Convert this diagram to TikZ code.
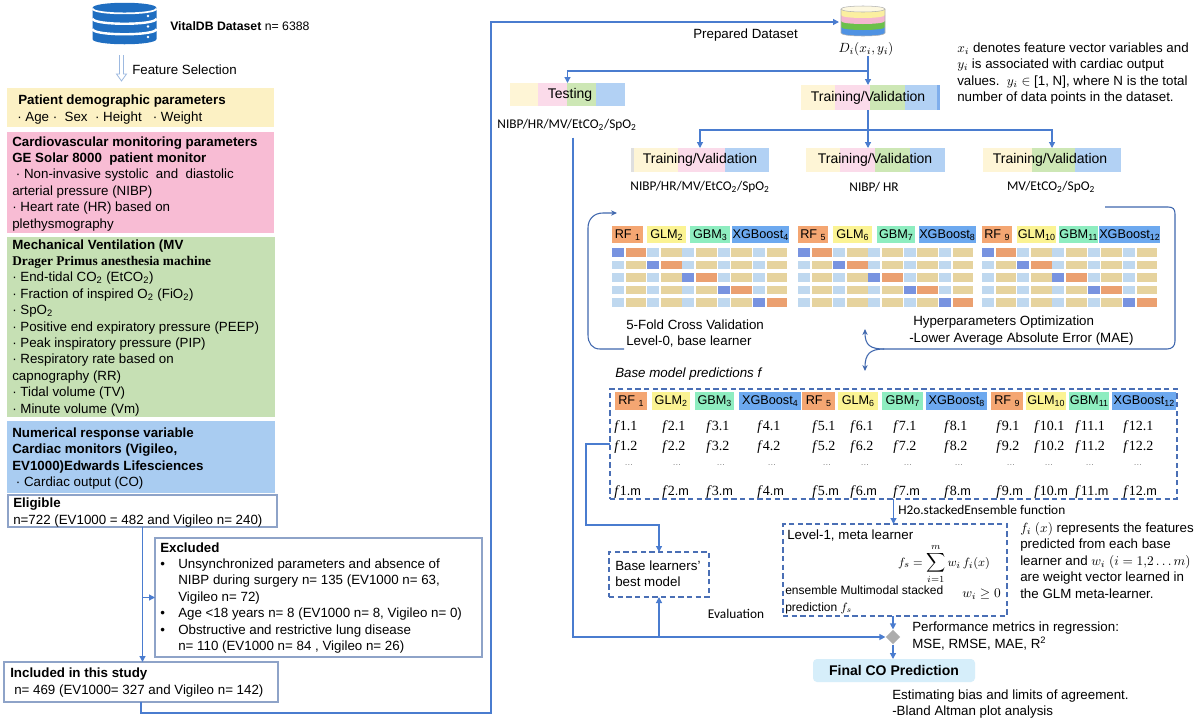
\documentclass[tikz,border=0pt]{standalone}
\usepackage{fontspec}
\setmainfont{Liberation Sans}
\newfontfamily\calibf{Carlito}
\newfontfamily\seriff{Liberation Serif}
\newfontfamily\sansf{Liberation Sans}
\usetikzlibrary{arrows.meta,shapes.geometric}
\definecolor{lnblue}{HTML}{4A7CCF}
\definecolor{dashc}{HTML}{4A6FB5}
\definecolor{curvc}{HTML}{3F67AE}
\definecolor{bxyel}{HTML}{FCF1C4}
\definecolor{bxpink}{HTML}{F8BCD4}
\definecolor{bxgreen}{HTML}{C6E0B4}
\definecolor{bxblue}{HTML}{A9CCF1}
\definecolor{bord}{HTML}{8EA3C8}
\definecolor{dbblue}{HTML}{1F6EC1}
\definecolor{arrlt}{HTML}{9DB9E0}
\definecolor{rfc}{HTML}{F4A672}
\definecolor{glmc}{HTML}{FBF393}
\definecolor{gbmc}{HTML}{8EEDC0}
\definecolor{xgbc}{HTML}{6DA9EF}
\definecolor{celb}{HTML}{BFD8EF}
\definecolor{celt}{HTML}{E6D39E}
\definecolor{celdb}{HTML}{7893E0}
\definecolor{celo}{HTML}{EBA070}
\definecolor{tvy}{HTML}{FEF5D6}
\definecolor{tvp}{HTML}{FBDBEA}
\definecolor{tvg}{HTML}{CDE7B5}
\definecolor{tvb}{HTML}{B2D1F4}
\definecolor{tvdb}{HTML}{7FAEEC}
\definecolor{finalc}{HTML}{D6EEFA}
\definecolor{dsy}{HTML}{FBEFA0}
\definecolor{dsp}{HTML}{F4B6CF}
\definecolor{dsg}{HTML}{6CC04A}
\definecolor{dsb}{HTML}{4F92E3}
\definecolor{dstop}{HTML}{FDF8E0}
\begin{document}
\begin{tikzpicture}[x=0.75pt,y=-0.75pt,
  txt/.style={anchor=base west,inner sep=0pt,font=\fontsize{10}{12}\selectfont},
  ctxt/.style={anchor=center,inner sep=0pt,font=\fontsize{10}{12}\selectfont},
  box/.style args={#1x#2}{minimum width=#1*0.75pt,minimum height=#2*0.75pt,inner sep=0pt,outer sep=0pt,anchor=north west},
  ln/.style={draw=lnblue,line width=0.9pt},
  arr/.style={ln,-{Triangle[length=4.5pt,width=4.5pt]}},
  dbox/.style={draw=dashc,line width=1pt,dash pattern=on 4pt off 2.5pt},
  hdr/.style 2 args={fill=#1,minimum width=#2*0.75pt,inner sep=0pt,anchor=north west,minimum height=17*0.75pt,font=\fontsize{9.5}{11}\selectfont},
  fv/.style={anchor=base west,inner sep=0pt,font=\seriff\fontsize{10.5}{12}\selectfont},
  curv/.style={draw=curvc,line width=0.8pt},
  curvarr/.style={curv,-{Stealth[length=4.5pt,width=4pt]}},
]
\useasboundingbox (0,0) rectangle (1200,722);
\fill[white] (0,0) rectangle (1200,722);

% ================= LEFT PANEL =================
% database icon
\fill[dbblue] (92.5,8) -- (92.5,39) .. controls (92.5,46) and (156.5,46) .. (156.5,39) -- (156.5,8) .. controls (156.5,1) and (92.5,1) .. (92.5,8) -- cycle;
\draw[white,line width=1.3pt] (92.5,8.5) .. controls (92.5,15) and (156.5,15) .. (156.5,8.5);
\draw[white,line width=1.8pt] (92.5,18.5) .. controls (92.5,25.5) and (156.5,25.5) .. (156.5,18.5);
\draw[white,line width=1.8pt] (92.5,29) .. controls (92.5,36) and (156.5,36) .. (156.5,29);
\foreach \yy in {16,26.5,37} \fill[white] (148,\yy) circle[radius=1.1pt];
\node[txt,font=\fontsize{9.2}{11}\selectfont] (vital) at (170,30) {\textbf{VitalDB Dataset} n= 6388};

% feature selection arrow
\draw[arrlt,line width=0.6pt] (119.5,55) -- (119.5,74) -- (116.5,74) -- (121.5,81) -- (126.5,74) -- (123.5,74) -- (123.5,55);
\node[txt] (fsel) at (132,74) {Feature Selection};

% colored boxes
\node[box=267x39,fill=bxyel] (demo) at (7,88) {};
\node[box=267x101,fill=bxpink] (cardio) at (7,132) {};
\node[box=268x180,fill=bxgreen] (mv) at (7,237) {};
\node[box=268x72,fill=bxblue] (resp) at (7,421) {};

\node[txt] (demo0) at (18,104) {\textbf{Patient demographic parameters}};
\node[txt] (demo1) at (17,121) {·\ Age ·\ \ Sex \ ·\ Height \ \ ·\ Weight};

\foreach \t [count=\i from 0] in {{\textbf{Cardiovascular monitoring parameters}},{\textbf{GE Solar 8000 \ patient monitor}},{\ ·\ Non-invasive systolic \ and \ diastolic},{arterial pressure (NIBP)},{·\ Heart rate (HR) based on},{plethysmography}}
  \node[txt] (cv\i) at (12,{146+16.4*\i}) {\t};

\foreach \t [count=\i from 0] in {{\textbf{Mechanical Ventilation (MV}},{{\seriff\bfseries Drager Primus anesthesia machine}},{·\ End-tidal CO\textsubscript{2} (EtCO\textsubscript{2})},{·\ Fraction of inspired O\textsubscript{2} (FiO\textsubscript{2})},{·\ SpO\textsubscript{2}},{·\ Positive end expiratory pressure (PEEP)},{·\ Peak inspiratory pressure (PIP)},{·\ Respiratory rate based on},{capnography (RR)},{·\ Tidal volume (TV)},{·\ Minute volume (Vm)}}
  \node[txt] (mvt\i) at (12,{249+16.4*\i}) {\t};

\foreach \t [count=\i from 0] in {{\textbf{Numerical response variable}},{\textbf{Cardiac monitors (Vigileo,}},{\textbf{EV1000)Edwards Lifesciences}},{\ ·\ Cardiac output (CO)}}
  \node[txt] (rs\i) at (12,{437+16.5*\i}) {\t};

% eligible / excluded / included
\node[box=269x32,draw=bord,fill=white,line width=0.8pt] (elig) at (8,495) {};
\node[txt] (elig0) at (13,507) {\textbf{Eligible}};
\node[txt] (elig1) at (13,524) {n=722 (EV1000 = 482 and Vigileo n= 240)};

\node[box=327x119,draw=bord,line width=0.8pt] (excl) at (155,538) {};
\node[txt] (ex0) at (160,552) {\textbf{Excluded}};
\foreach \yy in {568,617,634} \node[txt] at (160,\yy) {•};
\node[txt] (ex1) at (178,568) {Unsynchronized parameters and absence of};
\node[txt] (ex2) at (178,584.5) {NIBP during surgery n= 135 (EV1000 n= 63,};
\node[txt] (ex3) at (178,601) {Vigileo n= 72)};
\node[txt] (ex4) at (178,617) {Age <18 years n= 8 (EV1000 n= 8, Vigileo n= 0)};
\node[txt] (ex5) at (178,634) {Obstructive and restrictive lung disease};
\node[txt] (ex6) at (178,650) {n= 110 (EV1000 n= 84 , Vigileo n= 26)};

\node[box=274x40,draw=bord,line width=0.8pt] (incl) at (4,662) {};
\node[txt] (in0) at (10,677) {\textbf{Included in this study}};
\node[txt] (in1) at (14,694) {n= 469 (EV1000= 327 and Vigileo n= 142)};

\draw[arr] (elig.south) -- (elig.south |- incl.north);
\draw[arr] (elig.south |- excl.west) -- (excl.west);

% ================= RIGHT PANEL =================
% prepared dataset icon
\node[box=47x34] (ds) at (839,5) {};
\fill[dsb] (841,27) -- (841,33) .. controls (841,37) and (885,37) .. (885,33) -- (885,27) -- cycle;
\fill[dsg] (841,21) -- (841,27) .. controls (841,31) and (885,31) .. (885,27) -- (885,21) -- cycle;
\fill[dsp] (841,15) -- (841,21) .. controls (841,25) and (885,25) .. (885,21) -- (885,15) -- cycle;
\fill[dsy] (841,9) -- (841,15) .. controls (841,19) and (885,19) .. (885,15) -- (885,9) -- cycle;
\draw[gray!60,line width=0.4pt,fill=dstop] (841,9) .. controls (841,5) and (885,5) .. (885,9) .. controls (885,13) and (841,13) .. (841,9) -- cycle;
\draw[gray!60,line width=0.4pt] (841,9) -- (841,33) .. controls (841,37) and (885,37) .. (885,33) -- (885,9);
\node[ctxt] (dslab) at (866,49) {$D_i(x_i,y_i)$};
\node[txt] (prep) at (693,38) {Prepared Dataset};

\coordinate (lpA) at (491,713);
\draw[arr] (incl.south) |- (lpA) |- (ds.west);

% explanatory text top right
\node[txt] (xt0) at (957,52) {$x_i$ denotes feature vector variables and};
\node[txt] (xt1) at (957,68) {$y_i$ is associated with cardiac output};
\node[txt] (xt2) at (957,85) {values.\ \ $y_i$ $\in$ [1, N], where N is the total};
\node[txt] (xt3) at (957,101) {number of data points in the dataset.};

% testing and training bars
\fill[tvy] (510,83) rectangle (538,106);
\fill[tvp] (538,83) rectangle (567,106);
\fill[tvg] (567,83) rectangle (596,106);
\fill[tvb] (596,83) rectangle (625,106);
\node[box=115x23] (test) at (510,83) {};
\node[ctxt,font=\fontsize{10.5}{12}\selectfont] (testt) at (570,95) {Testing};
\node[ctxt,font=\calibf\fontsize{10}{12}\selectfont] (testlab) at (567,125) {NIBP/HR/MV/EtCO\textsubscript{2}/SpO\textsubscript{2}};

\fill[tvy] (801,85) rectangle (835,110);
\fill[tvp] (835,85) rectangle (870,110);
\fill[tvg] (870,85) rectangle (905,110);
\fill[tvb] (905,85) rectangle (937,110);
\fill[tvdb] (937,85) rectangle (940,110);
\node[box=139x25] (tvtop) at (801,85) {};
\node[ctxt,font=\fontsize{10.5}{12}\selectfont] (tvtopt) at (868,98) {Training/Validation};

\fill[gray!25] (631,148) rectangle (634,172);
\fill[tvy] (634,148) rectangle (678,172);
\fill[tvp] (678,148) rectangle (725,172);
\fill[tvb] (725,148) rectangle (769,172);
\node[box=138x24] (tv1) at (631,148) {};
\node[ctxt,font=\fontsize{10.5}{12}\selectfont] (tv1t) at (700,160) {Training/Validation};
\node[ctxt,font=\calibf\fontsize{10}{12}\selectfont] (tv1l) at (700,187) {NIBP/HR/MV/EtCO\textsubscript{2}/SpO\textsubscript{2}};

\fill[tvy] (806,148) rectangle (840,172);
\fill[tvp] (840,148) rectangle (875,172);
\fill[tvg] (875,148) rectangle (910,172);
\fill[tvb] (910,148) rectangle (945,172);
\node[box=139x24] (tv2) at (806,148) {};
\node[ctxt,font=\fontsize{10.5}{12}\selectfont] (tv2t) at (875,160) {Training/Validation};
\node[ctxt,font=\calibf\fontsize{10}{12}\selectfont] (tv2l) at (874,187) {NIBP/ HR};

\fill[tvy] (983,148) rectangle (1032,172);
\fill[tvg] (1032,148) rectangle (1075,172);
\fill[tvb] (1075,148) rectangle (1121,172);
\node[box=138x24] (tv3) at (983,148) {};
\node[ctxt,font=\fontsize{10.5}{12}\selectfont] (tv3t) at (1050,160) {Training/Validation};
\node[ctxt,font=\calibf\fontsize{10}{12}\selectfont] (tv3l) at (1051,187) {MV/EtCO\textsubscript{2}/SpO\textsubscript{2}};

\coordinate (split1) at (868,71);
\coordinate (split2) at (868,130);
\draw[ln] (dslab.south -| split1) -- (split1);
\draw[arr] (split1) -| (test.north);
\draw[arr] (split1) -- (split1 |- tvtop.north);
\draw[ln] (split1 |- tvtop.south) -- (split2);
\draw[arr] (split2) -| (tv1.north);
\draw[arr] (split2) -- (split2 |- tv2.north);
\draw[arr] (split2) -| (tv3.north);

% grid headers
\foreach \x/\w/\c/\t [count=\i] in {612/31/rfc/{RF \textsubscript{1}},647/39/glmc/{GLM\textsubscript{2}},690/40/gbmc/{GBM\textsubscript{3}},732/57/xgbc/{XGBoost\textsubscript{4}},798/30/rfc/{RF \textsubscript{5}},833/39/glmc/{GLM\textsubscript{6}},877/38/gbmc/{GBM\textsubscript{7}},919/55/xgbc/{XGBoost\textsubscript{8}},982/30/rfc/{RF \textsubscript{9}},1017/39/glmc/{GLM\textsubscript{10}},1059/39/gbmc/{GBM\textsubscript{11}},1099/60/xgbc/{XGBoost\textsubscript{12}}}
  \node[hdr={\c}{\w}] (gh\i) at (\x,226) {\t};

% grid cells
\foreach \gx in {612,798,982}{
  \foreach \r in {0,...,4}{
    \foreach \k in {0,...,4}{
      \fill[celb] ({\gx+35.2*\k},{248+12.5*\r}) rectangle ++(12,8.5);
      \fill[celt] ({\gx+35.2*\k+13.8},{248+12.5*\r}) rectangle ++(20.6,8.5);
    }
    \fill[celdb] ({\gx+35.2*\r},{248+12.5*\r}) rectangle ++(12,8.5);
    \fill[celo] ({\gx+35.2*\r+13.8},{248+12.5*\r}) rectangle ++(20.6,8.5);
  }
}

\node[txt] (cv5f) at (626,329) {5-Fold Cross Validation};
\node[txt] (cvl0) at (626,345) {Level-0, base learner};
\node[txt] (hpo0) at (913,325) {Hyperparameters Optimization};
\node[txt] (hpo1) at (909,342) {-Lower Average Absolute Error (MAE)};

% loop curves
\draw[curvarr] (624,349) -- (600,349) .. controls (592,349) and (588,343) .. (588,335) -- (588,228) .. controls (588,219) and (594,213) .. (603,213) -- (617,213);
\draw[curv] (1105,207) -- (1168,207) .. controls (1173,207) and (1175,209) .. (1175,214) -- (1175,341) .. controls (1175,346) and (1172,349) .. (1167,349) -- (884,349);
\draw[curvarr] (884,349) .. controls (870,349) and (865,345) .. (865,329);
\draw[curvarr] (884,349) .. controls (870,349) and (865,354) .. (865,371);

% base model predictions
\node[txt,font=\itshape\fontsize{10}{12}\selectfont] (bmp) at (615,377) {Base model predictions f};
\node[box=567x110,dbox] (pred) at (610,389) {};
\foreach \x/\w/\c/\t [count=\i] in {615/32/rfc/{RF \textsubscript{1}},652/38/glmc/{GLM\textsubscript{2}},695/39/gbmc/{GBM\textsubscript{3}},739/62/xgbc/{XGBoost\textsubscript{4}},802/33/rfc/{RF \textsubscript{5}},838/40/glmc/{GLM\textsubscript{6}},882/41/gbmc/{GBM\textsubscript{7}},926/61/xgbc/{XGBoost\textsubscript{8}},991/32/rfc/{RF \textsubscript{9}},1026/40/glmc/{GLM\textsubscript{10}},1069/40/gbmc/{GBM\textsubscript{11}},1112/64/xgbc/{XGBoost\textsubscript{12}}}
  \node[hdr={\c}{\w},minimum height=18*0.75pt] (ph\i) at (\x,392) {\t};
\foreach \x/\n in {614/1,662/2,706/3,757/4,812/5,850/6,893/7,944/8,996/9,1034/10,1075/11,1123/12}{
  \node[fv] (fa\n) at (\x,430) {\textit{f}\n.1};
  \node[fv] (fb\n) at (\x,450) {\textit{f}\n.2};
  \node[ctxt,font=\fontsize{6.5}{8}\selectfont,text=gray] (fc\n) at ({\x+15},465) {…};
  \node[fv] (fd\n) at (\x,495) {\textit{f}\n{\sansf\fontsize{9.5}{10}\selectfont.m}};
}

% base learners best model
\node[box=100x45,dbox] (best) at (609,552) {};
\node[txt] (best0) at (615,570) {Base learners'};
\node[txt] (best1) at (615,586) {best model};
\coordinate (bA) at (586,525);
\draw[arr] (pred.west) -| (bA) -| (best.north);

% meta learner
\node[box=224x92,dbox] (meta) at (783,524) {};
\draw[arr] (pred.south) -- (pred.south |- meta.north);
\node[txt,font=\calibf\fontsize{10}{12}\selectfont] (h2o) at (898,514) {H2o.stackedEnsemble function};
\node[txt] (meta0) at (787,539) {Level-1, meta learner};
\node[ctxt,font=\fontsize{9.5}{11}\selectfont] (form) at (944,564) {$\displaystyle f_s = \sum_{i=1}^{m} w_i\, f_i(x)$};
\node[txt,font=\fontsize{9}{11}\selectfont] (meta1) at (785,594) {ensemble Multimodal stacked};
\node[txt,font=\fontsize{9}{11}\selectfont] (meta2) at (785,611) {prediction $f_s$};
\node[txt] (wi) at (962,597) {$w_i \geq 0$};

\foreach \t [count=\i from 0] in {{$f_i\ (x)$ represents the features},{predicted from each base},{learner and $w_i\ (i = 1{,}2 \ldots m)$},{are weight vector learned in},{the GLM meta-learner.}}
  \node[txt] (fx\i) at (1020,{532+16.5*\i}) {\t};

% evaluation / diamond / final
\node[diamond,fill=gray!65,inner sep=0pt,minimum width=11pt,minimum height=11pt] (dia) at (893,637) {};
\coordinate (evB) at (573,637);
\coordinate (evJ) at (659,637);
\draw[arr] ([yshift=-5pt]testlab.south -| evB) -- (evB) -- (dia.west);
\draw[arr] (evJ) -- (best.south);
\node[ctxt,font=\calibf\fontsize{10}{12}\selectfont] (evl) at (736,614) {Evaluation};
\draw[arr] (meta.south -| dia) -- (dia.north);

\node[box=162x23,fill=finalc,rounded corners=3pt] (final) at (813,659) {};
\node[ctxt,font=\bfseries\fontsize{10.5}{12}\selectfont] (finalt) at (894,670.5) {Final CO Prediction};
\draw[arr] (dia.south) -- (dia.south |- final.north);

\node[txt] (perf0) at (912,631) {Performance metrics in regression:};
\node[txt] (perf1) at (912,648) {MSE, RMSE, MAE, R\textsuperscript{2}};
\node[txt] (est0) at (892,699) {Estimating bias and limits of agreement.};
\node[txt] (est1) at (892,715) {-Bland Altman plot analysis};
\end{tikzpicture}
\end{document}
